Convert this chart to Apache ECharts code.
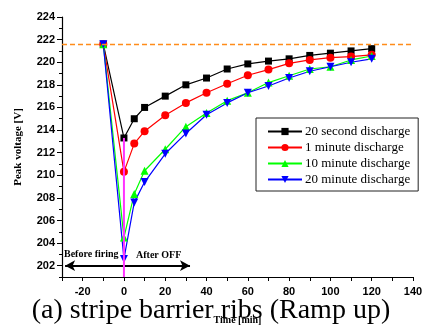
<!DOCTYPE html>
<html><head><meta charset="utf-8">
<script src="https://cdn.jsdelivr.net/npm/echarts@6/dist/echarts.min.js"></script>
<style>html,body{margin:0;padding:0;background:#fff}#c{width:422px;height:325px}</style>
</head><body><div id="c"></div>
<script>
var times = [-10, 0, 5, 10, 20, 30, 40, 50, 60, 70, 80, 90, 100, 110, 120];
var sec20 = [221.6, 213.3, 215.0, 216.0, 217.0, 218.0, 218.6, 219.4, 219.85, 220.1, 220.3, 220.6, 220.8, 221.0, 221.2];
var min1  = [221.6, 210.3, 212.8, 213.9, 215.3, 216.4, 217.3, 218.1, 218.85, 219.35, 219.9, 220.2, 220.4, 220.5, 220.65];
var min10 = [221.6, 204.5, 208.35, 210.4, 212.3, 214.3, 215.5, 216.6, 217.3, 218.2, 218.8, 219.4, 219.6, 220.2, 220.55];
var min20 = [221.6, 202.6, 207.6, 209.4, 211.9, 213.7, 215.35, 216.4, 217.3, 217.9, 218.6, 219.2, 219.6, 220.0, 220.3];
var seriesNames = ['20 second discharge', '1 minute discharge', '10 minute discharge', '20 minute discharge'];
var initialLevel = 221.6;
var yLabels = [202, 204, 206, 208, 210, 212, 214, 216, 218, 220, 222, 224];
var xLabels = [-20, 0, 20, 40, 60, 80, 100, 120, 140];
var arrowLevel = 202;
var arrowRange = [-28.5, 32];

function pts(ys){ return times.map(function(t,i){ return [t, ys[i]]; }); }
var serif = 'Liberation Serif';
var sans = 'Liberation Sans';
var chart = echarts.init(document.getElementById('c'), null, {renderer:'canvas'});
function mk(name, data, color, symbol, size, rot){
  return {name:name, type:'line', data:pts(data), color:color, symbol:symbol, symbolSize:size,
    symbolRotate:rot||0, lineStyle:{width:1.2, color:color}, itemStyle:{color:color}, z:3};
}
var option = {
  animation:false,
  backgroundColor:'#fff',
  grid:{left:62, right:9, top:17, bottom:48, containLabel:false, outerBoundsMode:'none'},
  title:{text:'(a) stripe barrier ribs (Ramp up)', left:'center', top:297, padding:0,
    textStyle:{fontFamily:serif, fontSize:28, fontWeight:'normal', color:'#000'}},
  legend:{data:seriesNames, left:256, top:118, orient:'vertical', itemWidth:34, itemHeight:9, itemGap:3,
    padding:[7,8,5,11], borderColor:'#222', borderWidth:1, backgroundColor:'#fff',
    textStyle:{fontFamily:serif, fontSize:13, lineHeight:12, color:'#000', padding:[0,0,0,-2]}},
  xAxis:{type:'value', min:-30, max:140, interval:10,
    name:'Time [min]', nameLocation:'middle', nameGap:38,
    nameTextStyle:{fontFamily:serif, fontWeight:'bold', fontSize:10, color:'#000'},
    axisLine:{show:true, onZero:false, lineStyle:{color:'#000', width:1.2}},
    axisTick:{show:true, length:4, lineStyle:{color:'#000'}},
    axisLabel:{customValues:xLabels, fontFamily:sans, fontWeight:'bold', fontSize:11, color:'#000', margin:9},
    splitLine:{show:false}},
  yAxis:[{type:'value', min:201, max:224, interval:1,
    name:'Peak voltage [V]', nameLocation:'middle', nameGap:38,
    nameTextStyle:{fontFamily:serif, fontWeight:'bold', fontSize:11, color:'#000'},
    axisLine:{show:true, onZero:false, lineStyle:{color:'#000', width:1.2}},
    axisTick:{show:true, customValues:yLabels, length:5, lineStyle:{color:'#000'}},
    axisLabel:{customValues:yLabels, fontFamily:sans, fontWeight:'bold', fontSize:11, color:'#000', margin:7},
    splitLine:{show:false}},
   {type:'value', min:201, max:224, interval:1, position:'left',
    axisLine:{show:false, onZero:false}, axisTick:{show:true, length:3, lineStyle:{color:'#000'}},
    axisLabel:{show:false}, splitLine:{show:false}}],
  series:[
    mk(seriesNames[0], sec20, '#000000', 'rect', 7),
    mk(seriesNames[1], min1, '#ff0000', 'circle', 8),
    mk(seriesNames[2], min10, '#00ff00', 'triangle', 8),
    mk(seriesNames[3], min20, '#0000ff', 'triangle', 8, 180),
    {type:'line', data:[[0, sec20[1]], [0, 201]], symbol:'none', lineStyle:{color:'#ff33ff', width:2}, z:5, silent:true,
     markLine:{silent:true, symbol:['none','none'], label:{show:false},
       lineStyle:{color:'#ff8c1a', type:[5,3], width:1.3},
       data:[{yAxis:initialLevel}]}},
    {type:'line', data:[], z:6,
     markLine:{silent:true, symbol:['arrow','arrow'], symbolSize:[8,10], label:{show:false},
       lineStyle:{color:'#000', type:'solid', width:2},
       data:[[{coord:[arrowRange[0], arrowLevel]},{coord:[arrowRange[1], arrowLevel]}]]}}
  ],
  graphic:[
    {type:'text', left:64, top:249, style:{text:'Before firing', font:'bold 10px '+serif, fill:'#000'}},
    {type:'text', left:136, top:250, style:{text:'After OFF', font:'bold 10px '+serif, fill:'#000'}}
  ]
};
chart.setOption(option);
</script></body></html>
